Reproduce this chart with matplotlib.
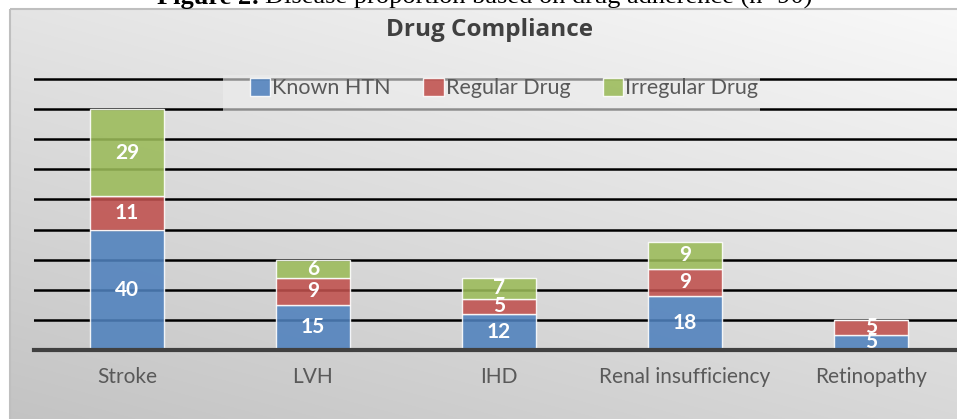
import numpy as np
import matplotlib
matplotlib.use("Agg")
import matplotlib.pyplot as plt
from matplotlib.patches import Rectangle, Patch

# data
categories = ["Stroke", "LVH", "IHD", "Renal insufficiency", "Retinopathy"]
known_htn = [40, 15, 12, 18, 5]
regular_drug = [11, 9, 5, 9, 5]
irregular_drug = [29, 6, 7, 9, 0]
series_names = ["Known HTN", "Regular Drug", "Irregular Drug"]
colors = ["#4f81bd", "#c0504d", "#9bbb59"]

W, H = 957, 419
fig = plt.figure(figsize=(W / 100, H / 100), dpi=100)
fig.patch.set_facecolor("white")

# chart area background (gradient) + border
bg = fig.add_axes([0, 0, 1, 1], zorder=-5)
bg.set_xlim(0, W)
bg.set_ylim(H, 0)
bg.axis("off")
xx, yy = np.meshgrid(np.linspace(0, 1, 200), np.linspace(0, 1, 100))
shade = 0.975 - 0.08 * (1 - xx) - 0.13 * yy
rgb = np.dstack([shade, shade, shade])
bg.imshow(rgb, extent=[10, W + 5, H + 5, 9], aspect="auto", interpolation="bilinear")
bg.add_patch(Rectangle((10, 9), W, H, fill=False, edgecolor="#bfbfbf", linewidth=1.5))

# caption above chart (clipped at the top, as in the source)
cap_y = 1 - 4 / H
t1 = fig.text(157 / W, cap_y, "Figure 2:", fontsize=19, fontweight="bold",
              family="Liberation Serif", va="baseline", ha="left")
fig.canvas.draw()
bb = t1.get_window_extent()
fig.text(bb.x1 / W + 5 / W, cap_y, "Disease proportion based on drug adherence (n=90)",
         fontsize=19, family="Liberation Serif", va="baseline", ha="left")

# plot area
ymax = 92
px_per = (350 - 79) / 90
top_px = 350 - ymax * px_per
ax = fig.add_axes([34 / W, (H - 350) / H, 930 / W, (350 - top_px) / H])
ax.set_facecolor("none")

x = np.arange(len(categories))
bottoms = np.zeros(len(categories))
for vals, name, c in zip([known_htn, regular_drug, irregular_drug], series_names, colors):
    vals = np.array(vals)
    ax.bar(x, vals, width=0.4, bottom=bottoms, color=c, alpha=0.88,
           edgecolor=(1, 1, 1, 0.6), linewidth=1, zorder=3, label=name)
    for xi, b, v in zip(x, bottoms, vals):
        if v > 0:
            ax.text(xi, b + v / 2, str(v), ha="center", va="center", color="white",
                    fontsize=15, fontweight="bold", family="Lato", zorder=4)
    bottoms = bottoms + vals

ax.set_xlim(-0.5, len(categories) - 0.5)
ax.set_ylim(0, ymax)
ax.set_yticks(np.arange(0, 91, 10))
ax.yaxis.grid(True, color="black", linewidth=1.8, zorder=1)
ax.set_axisbelow(True)
ax.tick_params(axis="y", length=0, labelleft=False)
ax.tick_params(axis="x", length=0, pad=12, labelsize=15, labelcolor="#595959")
ax.set_xticks(x)
ax.set_xticklabels(categories, family="Lato")
for s in ["top", "right", "left"]:
    ax.spines[s].set_visible(False)
ax.spines["bottom"].set_color("#404040")
ax.spines["bottom"].set_linewidth(3)
ax.spines["bottom"].set_zorder(5)

# title
fig.text(489 / W, 1 - 30 / H, "Drug Compliance", ha="center", va="center",
         fontsize=17.5, fontweight="bold", color="#404040", family="Open Sans")

# legend box: lighter veil over the gridlines
fig.add_artist(Rectangle((223 / W, 1 - 111 / H), (760 - 223) / W, 36 / H,
                         transform=fig.transFigure, facecolor=(0.93, 0.93, 0.93, 0.6),
                         edgecolor="none", zorder=2))
handles = [Patch(facecolor=c, edgecolor=(1, 1, 1, 0.7), alpha=0.88, label=n)
           for c, n in zip(colors, series_names)]
leg = fig.legend(handles=handles, loc="center", bbox_to_anchor=(504 / W, 1 - 88 / H),
                 ncol=3, frameon=False, handlelength=0.95, handleheight=0.95,
                 handletextpad=0.1, columnspacing=1.5, borderpad=0.3,
                 prop={"family": "Lato", "size": 15.5})
leg.set_zorder(3)
for t in leg.get_texts():
    t.set_color("#595959")

fig.savefig("out.png", dpi=100)
